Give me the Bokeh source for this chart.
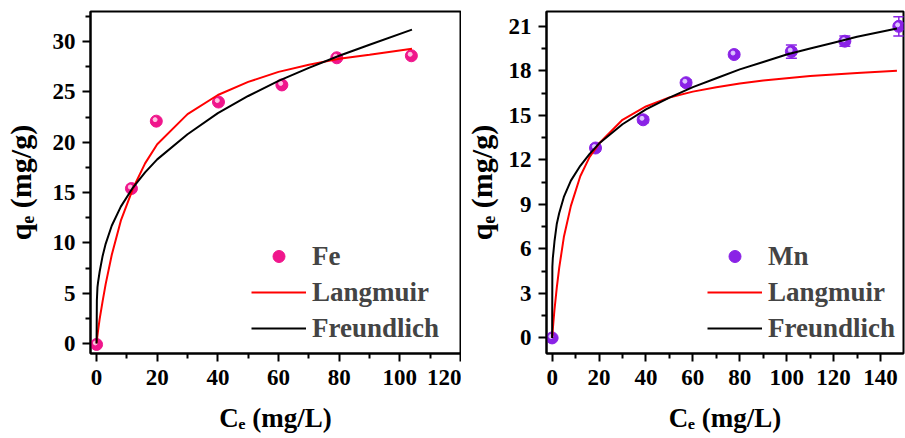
from bokeh.plotting import figure
from bokeh.layouts import row
from bokeh.models import (Legend, LegendItem, Whisker, ColumnDataSource,
                          FixedTicker, Range1d)
from bokeh.transform import dodge
from bokeh.embed import file_html
from bokeh.resources import INLINE

# ---------------- data ----------------
fe_ce = [0, 11.5, 19.7, 40.2, 61.1, 79.2, 103.8]
fe_qe = [-0.1, 15.4, 22.1, 24.0, 25.7, 28.4, 28.6]

fe_curve_ce = [0, 0.1, 0.3, 0.5, 1, 2, 3, 5, 8, 12, 16, 20, 30, 40, 50, 60, 70, 80, 90, 104]
fe_langmuir = [0, 0.3, 0.8, 1.3, 2.4, 4.2, 5.9, 8.8, 12.2, 15.4, 17.9, 19.8, 22.8, 24.7,
               26.0, 27.0, 27.7, 28.3, 28.7, 29.3]
fe_freundlich = [0, 4.3, 5.6, 6.1, 7.1, 8.7, 9.9, 11.7, 13.6, 15.5, 17.0, 18.3, 20.8, 22.9,
                 24.6, 26.1, 27.4, 28.6, 29.7, 31.2]

mn_ce = [0, 18.5, 38.8, 57.1, 77.6, 102.0, 124.8, 147.8]
mn_qe = [0, 12.8, 14.7, 17.2, 19.1, 19.3, 20.0, 21.0]
mn_err = [0.05, 0.2, 0.2, 0.2, 0.15, 0.45, 0.35, 0.65]

mn_curve_ce = [0, 0.1, 0.3, 0.5, 1, 2, 3, 5, 8, 12, 16, 20, 30, 40, 50, 60, 70, 80, 90,
               100, 110, 120, 130, 147]
mn_langmuir = [0, 0.2, 0.6, 1.0, 1.9, 3.4, 4.7, 6.8, 8.9, 10.9, 12.2, 13.1, 14.7, 15.6,
               16.2, 16.6, 16.9, 17.15, 17.35, 17.5, 17.65, 17.75, 17.85, 18.0]
mn_freundlich = [0, 4.8, 5.4, 5.7, 6.5, 7.7, 8.4, 9.5, 10.6, 11.6, 12.4, 13.1, 14.4, 15.4,
                 16.2, 16.9, 17.5, 18.1, 18.6, 19.1, 19.5, 19.9, 20.3, 20.85]

fe_xticks = [0, 20, 40, 60, 80, 100, 120]
fe_xminor = [10, 30, 50, 70, 90, 110]
fe_yticks = [0, 5, 10, 15, 20, 25, 30]
fe_yminor = [2.5, 7.5, 12.5, 17.5, 22.5, 27.5, 32.5]

mn_xticks = [0, 20, 40, 60, 80, 100, 120, 140]
mn_xminor = [10, 30, 50, 70, 90, 110, 130]
mn_yticks = [0, 3, 6, 9, 12, 15, 18, 21]
mn_yminor = [1.5, 4.5, 7.5, 10.5, 13.5, 16.5, 19.5]

FE_COLOR = "#F0168C"
FE_LIGHT = "#FFC4E2"
MN_COLOR = "#8A22E6"
MN_LIGHT = "#DCC4FF"
FONT = "Liberation Serif"


def make_panel(width, bl, br, xr, yr, xt, xmt, yt, ymt, title_standoff):
    p = figure(width=width, height=438, x_range=Range1d(*xr), y_range=Range1d(*yr),
               output_backend="svg", toolbar_location=None,
               min_border_left=bl, min_border_right=br, min_border_top=11,
               min_border_bottom=85)
    p.grid.visible = False
    p.outline_line_color = "black"
    p.outline_line_width = 2
    p.xaxis.ticker = FixedTicker(ticks=xt, minor_ticks=xmt)
    p.yaxis.ticker = FixedTicker(ticks=yt, minor_ticks=ymt)
    for ax in (p.xaxis[0], p.yaxis[0]):
        ax.axis_line_width = 2
        ax.major_tick_line_width = 2
        ax.minor_tick_line_width = 2
        ax.major_tick_in = 0
        ax.minor_tick_in = 0
        ax.major_tick_out = 8
        ax.minor_tick_out = 5
        ax.major_label_text_font = FONT
        ax.major_label_text_font_style = "bold"
        ax.major_label_text_font_size = "23px"
        ax.major_label_text_color = "black"
        ax.axis_label_text_font = FONT
        ax.axis_label_text_font_style = "bold"
        ax.axis_label_text_color = "black"
    p.xaxis.axis_label = "Cₑ (mg/L)"
    p.xaxis.axis_label_text_font_size = "27px"
    p.xaxis.major_label_standoff = 8
    p.xaxis.axis_label_standoff = 15
    p.yaxis.axis_label = "qₑ (mg/g)"
    p.yaxis.axis_label_text_font_size = "30px"
    p.yaxis.major_label_standoff = 7
    p.yaxis.axis_label_standoff = title_standoff
    return p


def add_data(p, ce, qe, color, light, cx, lang, freu, dx, dy, name, err=None):
    src = ColumnDataSource(dict(x=ce, y=qe))
    pts = p.scatter("x", "y", source=src, size=12, color=color, line_color=color)
    p.scatter(dodge("x", dx), dodge("y", dy), source=src, size=4,
              color=light, line_color=light)
    if err is not None:
        esrc = ColumnDataSource(dict(x=ce, lo=[q - e for q, e in zip(qe, err)],
                                     hi=[q + e for q, e in zip(qe, err)]))
        w = Whisker(base="x", lower="lo", upper="hi", source=esrc, dimension="height",
                    line_color=color, line_width=1.5)
        w.upper_head.size = 11
        w.lower_head.size = 11
        w.upper_head.line_color = color
        w.lower_head.line_color = color
        w.upper_head.line_width = 1.5
        w.lower_head.line_width = 1.5
        p.add_layout(w)
    lr = p.line(cx, lang, line_color="#FF0000", line_width=2)
    fr = p.line(cx, freu, line_color="black", line_width=2)
    legend = Legend(items=[LegendItem(label=name, renderers=[pts]),
                           LegendItem(label="Langmuir", renderers=[lr]),
                           LegendItem(label="Freundlich", renderers=[fr])],
                    location=(161, 7), border_line_color=None, background_fill_alpha=0,
                    label_text_font=FONT, label_text_font_style="bold",
                    label_text_font_size="27px", glyph_width=55, glyph_height=30,
                    label_height=36, label_standoff=6, spacing=0, padding=0, margin=0)
    p.add_layout(legend)


p1 = make_panel(461, 89, 1, (-2, 120), (-1, 33), fe_xticks, fe_xminor, fe_yticks, fe_yminor,
                13)
add_data(p1, fe_ce, fe_qe, FE_COLOR, FE_LIGHT, fe_curve_ce, fe_langmuir, fe_freundlich,
         -0.4, 0.15, "Fe")

p2 = make_panel(444, 85, 2, (-2.4, 149.8), (-1.05, 22), mn_xticks, mn_xminor, mn_yticks,
                mn_yminor, 8)
add_data(p2, mn_ce, mn_qe, MN_COLOR, MN_LIGHT, mn_curve_ce, mn_langmuir, mn_freundlich,
         -0.5, 0.1, "Mn", err=mn_err)

layout = row(p1, p2)
open("out.html", "w").write(file_html(layout, INLINE))
